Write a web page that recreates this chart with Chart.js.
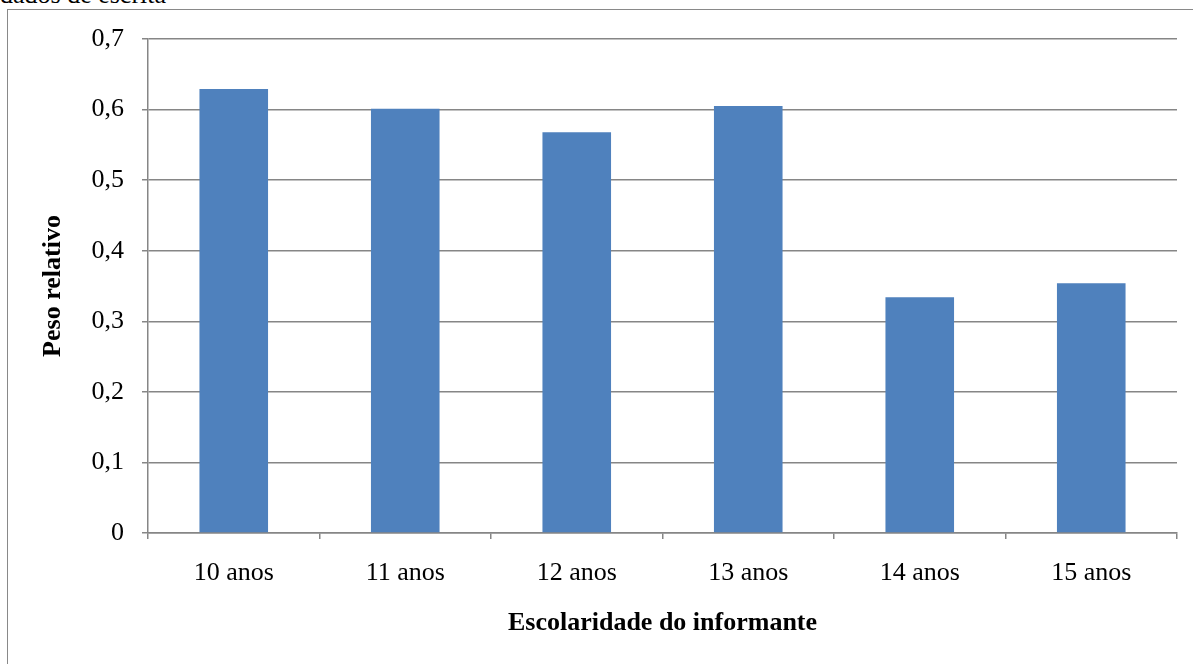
<!DOCTYPE html>
<html>
<head>
<meta charset="utf-8">
<script src="https://cdn.jsdelivr.net/npm/chart.js@4.4.1/dist/chart.umd.min.js"></script>
<style>
  html, body { margin: 0; padding: 0; background: #fff; overflow: hidden; }
  #wrap { position: relative; width: 1193px; height: 664px; overflow: hidden; }
  #caption {
    position: absolute; left: 0; top: -18px; margin: 0;
    font: 26px "Liberation Serif", "Times New Roman", serif; line-height: 1; color: #000;
    white-space: nowrap;
  }
  #frame {
    position: absolute; left: 7px; top: 9px; width: 1300px; height: 800px;
    border: 1.5px solid #898989; box-sizing: border-box;
  }
  #c { position: absolute; left: 0; top: 0; }
</style>
</head>
<body>
<div id="wrap">
  <div id="caption">dados de escrita</div>
  <div id="frame"></div>
  <canvas id="c" width="1193" height="664"></canvas>
</div>
<script>
// Relative weight by informant schooling
const categories = ['10 anos', '11 anos', '12 anos', '13 anos', '14 anos', '15 anos'];
const pesoRelativo = [0.629, 0.601, 0.568, 0.605, 0.334, 0.354];
const yTickLabels = ['0', '0,1', '0,2', '0,3', '0,4', '0,5', '0,6', '0,7'];

const serif = '"Liberation Serif", "Times New Roman", serif';
const gridGray = '#868686';

new Chart(document.getElementById('c'), {
  type: 'bar',
  data: {
    labels: categories,
    datasets: [{
      data: pesoRelativo,
      backgroundColor: '#4F81BD',
      borderColor: '#5A8AC4',
      borderWidth: 0,
      barPercentage: 0.4,
      categoryPercentage: 1.0
    }]
  },
  options: {
    responsive: false,
    animation: false,
    devicePixelRatio: 1,
    layout: { padding: { left: 0, top: 39, right: 16, bottom: 0 } },
    plugins: {
      legend: { display: false },
      tooltip: { enabled: false }
    },
    scales: {
      x: {
        afterFit(scale) { scale.height = 131; },
        grid: {
          display: true,
          drawOnChartArea: false,
          drawTicks: true,
          tickLength: 6,
          tickColor: gridGray,
          lineWidth: 1.5
        },
        border: { color: gridGray, width: 1.5 },
        ticks: {
          color: '#000',
          padding: 19,
          maxRotation: 0,
          font: { family: serif, size: 26 }
        },
        title: {
          display: true,
          text: 'Escolaridade do informante',
          color: '#000',
          padding: { top: 0, bottom: 25 },
          font: { family: serif, size: 26, weight: 'bold' }
        }
      },
      y: {
        min: 0,
        max: 0.7,
        afterFit(scale) { scale.width = 148; },
        afterBuildTicks(scale) {
          scale.ticks = yTickLabels.map((_, i) => ({ value: i / 10 }));
        },
        grid: {
          color: gridGray,
          lineWidth: 1.5,
          drawTicks: true,
          tickLength: 6,
          tickColor: gridGray
        },
        border: { color: gridGray, width: 1.5 },
        ticks: {
          color: '#000',
          padding: 18,
          font: { family: serif, size: 26 },
          callback: (value, index) => yTickLabels[index]
        },
        title: {
          display: true,
          text: 'Peso relativo',
          color: '#000',
          padding: { top: 38, bottom: 0 },
          font: { family: serif, size: 26, weight: 'bold' }
        }
      }
    }
  }
});
</script>
</body>
</html>
